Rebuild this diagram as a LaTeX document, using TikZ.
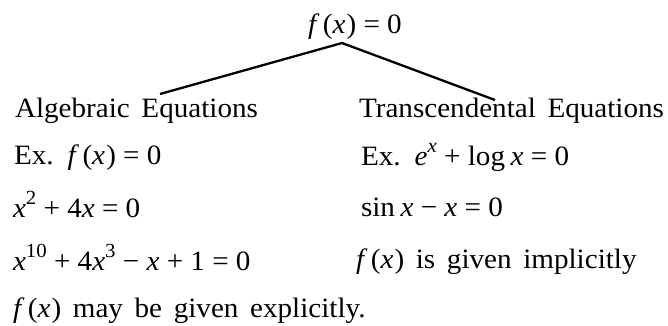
\documentclass[tikz,border=0pt]{standalone}
\usepackage{fontspec}
\setmainfont{Liberation Serif}[FakeStretch=1.04, WordSpace=1.6]
\newcommand\opr[1]{\kern0.26em#1\kern0.26em}
\newcommand\vx{\textit{x}}
\newcommand\fofx{\textit{f}\kern0.12em(\textit{x}\kern0.04em)}
\newcommand\sups[1]{\raisebox{0.45em}{\fontsize{20}{20}\selectfont #1}}
\newcommand\mns{\symbol{"2212}}
\newcommand\thsp{\kern0.2em}
\begin{document}
\begin{tikzpicture}[x=1pt,y=-1pt,
  txt/.style={anchor=base west,inner sep=0pt,outer sep=0pt,font=\fontsize{28}{32}\selectfont},
  branch/.style={line width=2.3pt}]
\useasboundingbox (0,0) rectangle (668,325);
\node[txt] (root) at (308,33) {\fofx\opr{=}0};
\coordinate (apex) at (342,43);
\coordinate (lend) at (160,94);
\coordinate (rend) at (495,100);
\node[txt] (alg) at (15,117) {Algebraic Equations};
\node[txt, anchor=base east] (tra) at (664,117) {Transcendental Equations};
\draw[branch] (lend) -- (apex) -- (rend);
\node[txt] (a1) at (14,164) {Ex. \fofx\opr{=}0};
\node[txt] (a2) at (13,217) {\vx\sups{2}\opr{+}4\vx\opr{=}0};
\node[txt] (a3) at (13,270) {\vx\sups{10}\opr{+}4\vx\sups{3}\opr{\mns}\vx\opr{+}1\opr{=}0};
\node[txt] (a4) at (13,317) {\fofx{} may be given explicitly.};
\node[txt] (t1) at (361,165) {Ex. \textit{e}\sups{\textit{x}}\opr{+}log\thsp\vx\opr{=}0};
\node[txt] (t2) at (361,216) {sin\thsp\vx\opr{\mns}\vx\opr{=}0};
\node[txt] (t3) at (356,268) {\fofx{} is given implicitly};
\end{tikzpicture}
\end{document}
